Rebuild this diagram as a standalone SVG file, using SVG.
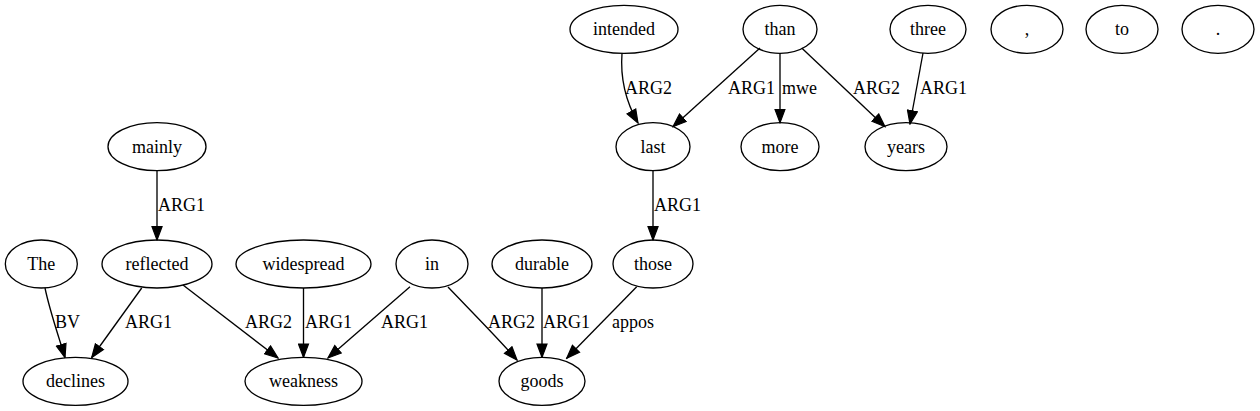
<svg xmlns="http://www.w3.org/2000/svg" width="1260" height="411" viewBox="0 0 1260 411" font-family="Liberation Serif, serif" font-size="18">
<style>
.n ellipse{fill:none;stroke:#000;stroke-width:1.33}
.n text{text-anchor:middle;fill:#000}
.e path{fill:none;stroke:#000;stroke-width:1.33;marker-end:url(#ah)}
.e text{fill:#000}
</style>
<defs>
<marker id="ah" markerUnits="userSpaceOnUse" markerWidth="15" markerHeight="12" viewBox="0 0 15 12" refX="14" refY="6" orient="auto">
<path d="M0.7,1 L14,6 L0.7,11 z" fill="#000" stroke="#000" stroke-width="1.2"/>
</marker>
</defs>
<rect width="1260" height="411" fill="#fff"/>
<g id="edges" class="e">
<path d="M157,170.7 L157,240"/><text x="158" y="211">ARG1</text>
<path d="M45,288 C50,312 58,334 65,357.5"/><text x="55" y="328">BV</text>
<path d="M141.7,288 L91.7,357.5"/><text x="125" y="328">ARG1</text>
<path d="M183,285 L278,358"/><text x="245" y="328">ARG2</text>
<path d="M303.5,288 L303.5,357.3"/><text x="305" y="328">ARG1</text>
<path d="M410,286.7 L328,358"/><text x="381" y="328">ARG1</text>
<path d="M448,287 C470,310 495,335 517,360"/><text x="488" y="328">ARG2</text>
<path d="M542,288 L542,357.3"/><text x="543" y="328">ARG1</text>
<path d="M636.7,286.7 L566.7,358.3"/><text x="612" y="328">appos</text>
<path d="M653,170.7 L653,240"/><text x="654" y="211">ARG1</text>
<path d="M622,53.3 C620,80 626,102 638,123"/><text x="625" y="94">ARG2</text>
<path d="M760,48 L673,126.7"/><text x="728" y="94">ARG1</text>
<path d="M780,53.3 L780,122.7"/><text x="782" y="94">mwe</text>
<path d="M801.7,48 L885,126.7"/><text x="853" y="94">ARG2</text>
<path d="M923,53 L910,124"/><text x="920" y="94">ARG1</text>
</g>
<g id="n-intended" class="n"><ellipse cx="624" cy="29.33" rx="54" ry="24"/><text x="624" y="35">intended</text></g>
<g id="n-than" class="n"><ellipse cx="780" cy="29.33" rx="37" ry="24"/><text x="780" y="35">than</text></g>
<g id="n-three" class="n"><ellipse cx="928" cy="29.33" rx="38" ry="24"/><text x="928" y="35">three</text></g>
<g id="n-comma" class="n"><ellipse cx="1027" cy="29.33" rx="36" ry="24"/><text x="1027" y="35">,</text></g>
<g id="n-to" class="n"><ellipse cx="1122" cy="29.33" rx="36" ry="24"/><text x="1122" y="35">to</text></g>
<g id="n-period" class="n"><ellipse cx="1218" cy="29.33" rx="36" ry="24"/><text x="1218" y="35">.</text></g>
<g id="n-mainly" class="n"><ellipse cx="157" cy="146.67" rx="49" ry="24"/><text x="157" y="152.5">mainly</text></g>
<g id="n-last" class="n"><ellipse cx="653" cy="146.67" rx="37" ry="24"/><text x="653" y="152.5">last</text></g>
<g id="n-more" class="n"><ellipse cx="780" cy="146.67" rx="39" ry="24"/><text x="780" y="152.5">more</text></g>
<g id="n-years" class="n"><ellipse cx="906" cy="146.67" rx="41" ry="24"/><text x="906" y="152.5">years</text></g>
<g id="n-The" class="n"><ellipse cx="41.33" cy="264" rx="36" ry="24"/><text x="41.33" y="270">The</text></g>
<g id="n-reflected" class="n"><ellipse cx="157" cy="264" rx="55" ry="24"/><text x="157" y="270">reflected</text></g>
<g id="n-widespread" class="n"><ellipse cx="303.5" cy="264" rx="67.5" ry="24"/><text x="303.5" y="270">widespread</text></g>
<g id="n-in" class="n"><ellipse cx="432" cy="264" rx="36" ry="24"/><text x="432" y="270">in</text></g>
<g id="n-durable" class="n"><ellipse cx="542" cy="264" rx="50" ry="24"/><text x="542" y="270">durable</text></g>
<g id="n-those" class="n"><ellipse cx="653" cy="264" rx="40" ry="24"/><text x="653" y="270">those</text></g>
<g id="n-declines" class="n"><ellipse cx="75.5" cy="381.33" rx="52.5" ry="24"/><text x="75.5" y="387">declines</text></g>
<g id="n-weakness" class="n"><ellipse cx="303.5" cy="381.33" rx="58.5" ry="24"/><text x="303.5" y="387">weakness</text></g>
<g id="n-goods" class="n"><ellipse cx="542" cy="381.33" rx="43" ry="24"/><text x="542" y="387">goods</text></g>
</svg>
